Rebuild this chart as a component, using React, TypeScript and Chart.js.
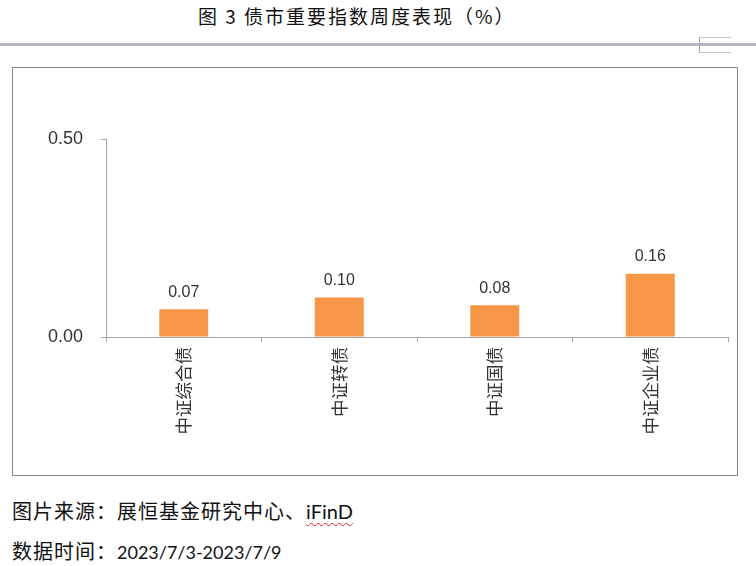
import { useEffect, useRef } from 'react';
import Chart from 'chart.js/auto';

const categories = ['中证综合债', '中证转债', '中证国债', '中证企业债'];
const weeklyReturns = [0.07, 0.1, 0.08, 0.16];
const yTicks = [0, 0.5];

const BAR_COLOR = '#F79646';

const valueLabels = {
  id: 'valueLabels',
  afterDatasetsDraw(chart: Chart) {
    const { ctx } = chart;
    const meta = chart.getDatasetMeta(0);
    ctx.save();
    ctx.font = '16px "Liberation Sans", Arial, sans-serif';
    ctx.fillStyle = '#333333';
    ctx.textAlign = 'center';
    ctx.textBaseline = 'middle';
    meta.data.forEach((bar: any, i: number) => {
      ctx.fillText(weeklyReturns[i].toFixed(2), bar.x, bar.y - 17);
    });
    ctx.restore();
  },
};

function BondChart() {
  const chartRef = useRef<HTMLCanvasElement | null>(null);

  useEffect(() => {
    let newChart: Chart | null = null;
    if (chartRef.current) {
      const context = chartRef.current.getContext('2d');
      if (context) {
        newChart = new Chart(context, {
          type: 'bar',
          data: {
            labels: categories,
            datasets: [
              {
                data: weeklyReturns,
                backgroundColor: BAR_COLOR,
                borderWidth: 0,
                categoryPercentage: 1,
                barPercentage: 0.315,
              },
            ],
          },
          options: {
            animation: false,
            responsive: true,
            maintainAspectRatio: false,
            layout: { padding: { top: 71, right: 9, left: 0, bottom: 0 } },
            plugins: {
              legend: { display: false },
              tooltip: { enabled: false },
            },
            scales: {
              x: {
                afterFit: (scale: any) => {
                  scale.height = 138;
                },
                grid: {
                  offset: true,
                  drawOnChartArea: false,
                  drawTicks: true,
                  tickLength: 5,
                  color: '#a6a6a6',
                },
                border: { color: '#a6a6a6' },
                ticks: {
                  minRotation: 90,
                  maxRotation: 90,
                  padding: 5,
                  color: '#333333',
                  font: { family: '"Noto Sans CJK SC", sans-serif', size: 17.5 },
                },
              },
              y: {
                min: 0,
                max: 0.5,
                afterFit: (scale: any) => {
                  scale.width = 93;
                },
                afterBuildTicks: (scale: any) => {
                  scale.ticks = yTicks.map((v) => ({ value: v }));
                },
                grid: {
                  drawOnChartArea: false,
                  drawTicks: true,
                  tickLength: 5,
                  color: '#a6a6a6',
                },
                border: { color: '#a6a6a6' },
                ticks: {
                  padding: 18,
                  color: '#333333',
                  font: { family: '"Liberation Sans", Arial, sans-serif', size: 18 },
                  callback: (v: any) => Number(v).toFixed(2),
                },
              },
            },
          },
          plugins: [valueLabels],
        });
      }
    }
    return () => {
      if (newChart) {
        newChart.destroy();
      }
    };
  }, []);

  return (
    <div style={{ position: 'relative', width: '100%', height: '100%' }}>
      <canvas ref={chartRef}></canvas>
    </div>
  );
}

export default function App() {
  const cjk = '"Noto Sans CJK SC", sans-serif';
  return (
    <div
      style={{
        position: 'absolute',
        left: 0,
        top: 0,
        width: 756,
        height: 566,
        background: '#ffffff',
        overflow: 'hidden',
      }}
    >
      <div
        style={{
          position: 'absolute',
          left: 198,
          top: 3,
          fontFamily: cjk,
          fontSize: 19,
          lineHeight: '26px',
          letterSpacing: 2,
          color: '#111111',
          whiteSpace: 'nowrap',
        }}
      >
        图 3 债市重要指数周度表现（%）
      </div>
      <div
        style={{
          position: 'absolute',
          left: 0,
          top: 43,
          width: 756,
          height: 3,
          background: '#b4b6c0',
        }}
      />
      <div
        style={{
          position: 'absolute',
          left: 699,
          top: 37,
          width: 31,
          height: 14,
          borderTop: '1px solid #c8c8c8',
          borderBottom: '1px solid #c8c8c8',
          borderLeft: '1px solid #a8a8a8',
        }}
      />
      <div
        style={{
          position: 'absolute',
          left: 12,
          top: 67,
          width: 726,
          height: 409,
          border: '1px solid #8a8a8a',
          boxSizing: 'border-box',
        }}
      >
        <BondChart />
      </div>
      <div
        style={{
          position: 'absolute',
          left: 12,
          top: 497,
          fontFamily: cjk,
          fontSize: 20,
          lineHeight: '28px',
          letterSpacing: 1,
          color: '#111111',
          whiteSpace: 'nowrap',
        }}
      >
        图片来源：展恒基金研究中心、
        <span
          style={{
            fontFamily: 'Lato, sans-serif',
            letterSpacing: 0,
            textDecoration: 'underline wavy #e02020',
            textDecorationThickness: 1,
            textUnderlineOffset: 3,
          }}
        >
          iFinD
        </span>
      </div>
      <div
        style={{
          position: 'absolute',
          left: 12,
          top: 537,
          fontFamily: cjk,
          fontSize: 20,
          lineHeight: '28px',
          letterSpacing: 1,
          color: '#111111',
          whiteSpace: 'nowrap',
        }}
      >
        数据时间：
        <span style={{ fontFamily: 'Lato, sans-serif', fontSize: 18, letterSpacing: 0 }}>
          2023/7/3-2023/7/9
        </span>
      </div>
    </div>
  );
}
